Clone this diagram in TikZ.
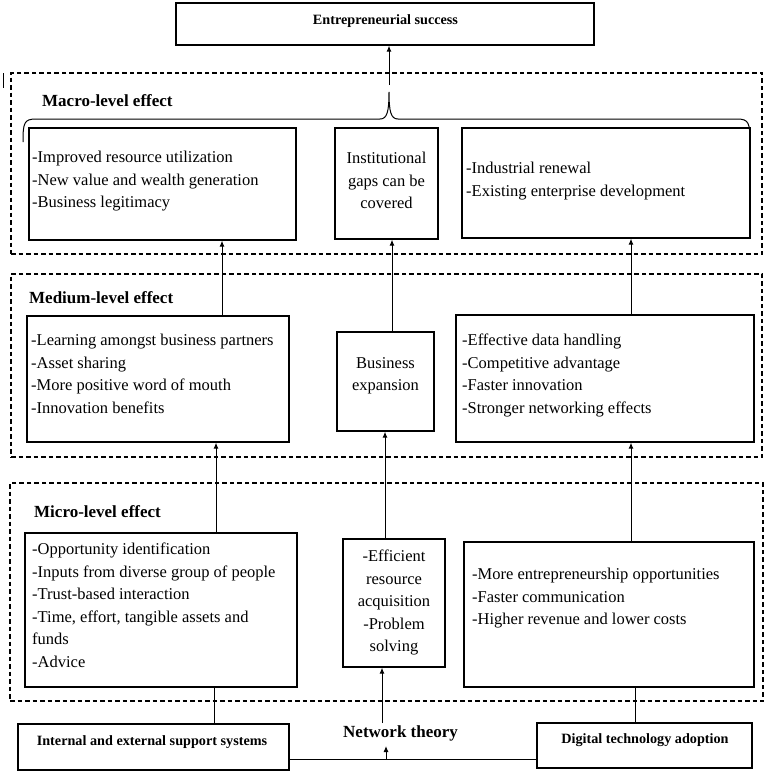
\documentclass[tikz,border=0pt]{standalone}
\usepackage{fontspec}
\setmainfont{Liberation Serif}
\usetikzlibrary{arrows.meta,fit,calc}
\begin{document}
\begin{tikzpicture}[x=1pt,y=-1pt,
  box/.style={draw, line width=1.3pt, rectangle, inner sep=0pt},
  grp/.style={draw, dash pattern=on 4.5pt off 3pt, line width=1.1pt},
  txt/.style={inner sep=0pt, align=left, font=\fontsize{16.5}{22.5}\selectfont},
  ctxt/.style={inner sep=0pt, align=center, font=\fontsize{16.5}{22.5}\selectfont},
  lvl/.style={inner sep=0pt, font=\fontsize{17}{20}\selectfont\bfseries},
  bold/.style={inner sep=0pt, font=\fontsize{14.2}{17}\selectfont\bfseries},
  arr/.style={-{Latex[length=6pt,width=5pt]}, line width=1pt},
  ln/.style={line width=1pt}]
\useasboundingbox (0,0) rectangle (765,774);

% group frames
\node[grp, inner sep=0pt, fit={(11,73) (762,254)}] (gMacro) {};
\node[grp, inner sep=0pt, fit={(11,274) (762,457)}] (gMed) {};
\node[grp, inner sep=0pt, fit={(10,483) (763,701)}] (gMicro) {};
\draw[ln] (3,73) -- (3,88);

% top
\node[box, fit={(176,3) (594,45)}] (top) {};
\node[bold, font=\fontsize{14.2}{17}\selectfont\bfseries, anchor=base] (topt) at (385.5,24) {Entrepreneurial success};

% level labels
\node[lvl, anchor=base west] (lMacro) at (42,106) {Macro-level effect};
\node[lvl, anchor=base west] (lMed) at (29,303) {Medium-level effect};
\node[lvl, anchor=base west] (lMicro) at (34,517) {Micro-level effect};

% macro boxes
\node[box, fit={(29,128) (296,240)}] (ML) {};
\node[box, fit={(335,128) (438,239)}] (MM) {};
\node[box, fit={(462,128) (750,238)}] (MR) {};
\node[txt, anchor=north west] (MLt) at (32,151) {-Improved resource utilization\\-New value and wealth generation\\-Business legitimacy};
\node[ctxt, anchor=north] (MMt) at (386.5,152) {Institutional\\gaps can be\\covered};
\node[txt, anchor=north west] (MRt) at (466,162) {-Industrial renewal\\-Existing enterprise development};

% brace
\coordinate (bt) at (389,92);
\draw[ln] (23,142) .. controls (23,123) and (24,119) .. (36,119) -- (380,119)
  .. controls (387,119) and (389,112) .. (bt)
  .. controls (389,112) and (391,119) .. (398,119) -- (737,119)
  .. controls (749,119) and (750,123) .. (750,143);
\draw[arr, shorten <=7pt] (bt) -- (top.south -| bt);

% medium boxes
\node[box, fit={(27,316) (289,442)}] (mL) {};
\node[box, fit={(337,332) (434,431)}] (mM) {};
\node[box, fit={(456,315) (754,442)}] (mR) {};
\node[txt, anchor=north west] (mLt) at (31,334) {-Learning amongst business partners\\-Asset sharing\\-More positive word of mouth\\-Innovation benefits};
\node[ctxt, anchor=north] (mMt) at (385.5,357) {Business\\expansion};
\node[txt, anchor=north west] (mRt) at (462,334) {-Effective data handling\\-Competitive advantage\\-Faster innovation\\-Stronger networking effects};

% micro boxes
\node[box, fit={(25,533) (297,687)}] (uL) {};
\node[box, fit={(343,539) (445,667)}] (uM) {};
\node[box, fit={(464,542) (754,687)}] (uR) {};
\node[txt, anchor=north west] (uLt) at (32,543) {-Opportunity identification\\-Inputs from diverse group of people\\-Trust-based interaction\\-Time, effort, tangible assets and\\funds\\-Advice};
\node[ctxt, anchor=north] (uMt) at (394,550) {-Efficient\\resource\\acquisition\\-Problem\\solving};
\node[txt, anchor=north west] (uRt) at (472,568) {-More entrepreneurship opportunities\\-Faster communication\\-Higher revenue and lower costs};

% bottom boxes
\node[box, fit={(18,724) (289,770)}] (int) {};
\node[box, fit={(537,723) (752,768)}] (dig) {};
\node[bold, anchor=base] (intt) at (152,745) {Internal and external support systems};
\node[bold, anchor=base] (digt) at (645,743) {Digital technology adoption};
\node[inner sep=0pt, font=\fontsize{17}{20}\selectfont\bfseries, anchor=base west] (nt) at (343,737) {Network theory};

% x positions
\coordinate (xa) at (222,0);
\coordinate (xb) at (392,0);
\coordinate (xc) at (631,0);
\coordinate (xd) at (216,0);
\coordinate (xe) at (385,0);
\coordinate (xf) at (214,0);
\coordinate (xg) at (635,0);
\coordinate (xh) at (382,0);
\coordinate (xi) at (386,0);
\coordinate (yh) at (0,759);

% arrows medium -> macro
\draw[arr] (mL.north -| xa) -- (ML.south -| xa);
\draw[arr] (mM.north -| xb) -- (MM.south -| xb);
\draw[arr] (mR.north -| xc) -- (MR.south -| xc);
% micro -> medium
\draw[arr] (uL.north -| xd) -- (mL.south -| xd);
\draw[arr] (uM.north -| xe) -- (mM.south -| xe);
\draw[arr] (uR.north -| xc) -- (mR.south -| xc);
% bottom
\draw[ln] (int.north -| xf) -- (uL.south -| xf);
\draw[ln] (dig.north -| xg) -- (uR.south -| xg);
\draw[arr] (nt.north -| xh) ++(0,-2) -- (uM.south -| xh);
\draw[ln] (int.east |- yh) -- (dig.west |- yh);
\draw[arr] (xi |- yh) -- (386,746);
\end{tikzpicture}
\end{document}
